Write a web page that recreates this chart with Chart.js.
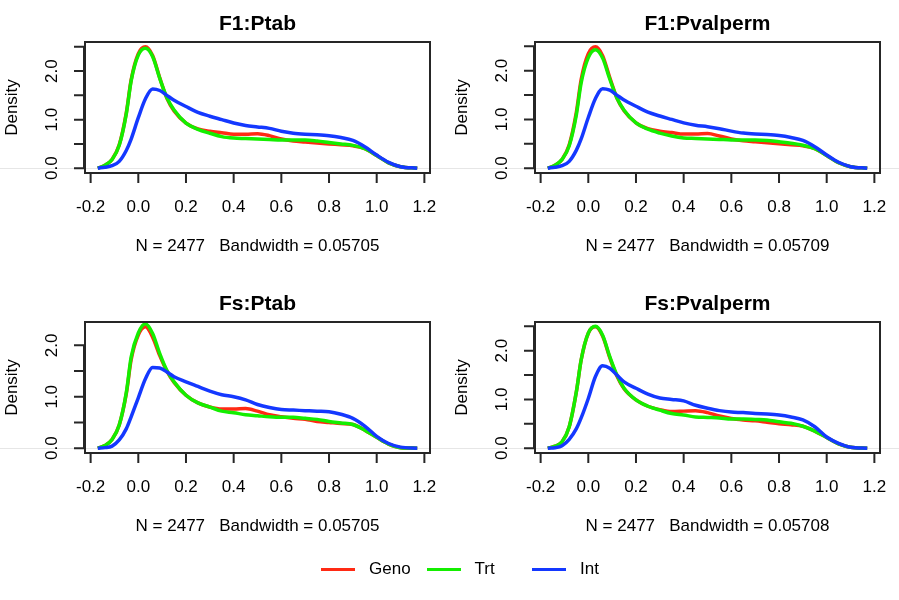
<!DOCTYPE html>
<html lang="en">
<head>
<meta charset="UTF-8">
<title>Density: F1 / Fs</title>
<script src="https://cdn.jsdelivr.net/npm/chart.js"></script>
<style>
  body { margin: 0; background: #fff; font-family: 'Liberation Sans', Arial, sans-serif; }
  #wrap { position: relative; width: 899px; height: 600px; }
  #wrap canvas { position: absolute; }
  #legend { position: absolute; left: 321px; top: 558px; height: 22px; display: flex; }
  .item { width: 105.5px; display: flex; align-items: center; font-size: 17px; color: #000; }
  .swatch { width: 34px; height: 3px; margin-right: 14px; }
</style>
</head>
<body>
<div id="wrap">
  <canvas id="c1" width="450" height="280" style="left:0;top:0"></canvas>
  <canvas id="c2" width="449" height="280" style="left:450px;top:0"></canvas>
  <canvas id="c3" width="450" height="280" style="left:0;top:280px"></canvas>
  <canvas id="c4" width="449" height="280" style="left:450px;top:280px"></canvas>
  <div id="legend"></div>
</div>

<script>
// x grid of the density estimates (shared by all panels)
const xs = [-0.17, -0.14, -0.11, -0.08, -0.05, -0.03, 0.0, 0.03, 0.06, 0.09, 0.12, 0.15, 0.2, 0.25, 0.3, 0.35,
            0.4, 0.45, 0.5, 0.55, 0.6, 0.65, 0.7, 0.75, 0.8, 0.85, 0.9, 0.95, 1.0, 1.05, 1.1, 1.17];

const seriesNames = ['Geno', 'Trt', 'Int'];
const seriesColors = ['#ff2a14', '#14ee00', '#1438ff'];

const panelTitles = ['F1:Ptab', 'F1:Pvalperm', 'Fs:Ptab', 'Fs:Pvalperm'];
const sampleSizes = [2477, 2477, 2477, 2477];
const bandwidths = ['0.05705', '0.05709', '0.05705', '0.05708'];

// F1:Ptab
const genoF1Ptab = [0.00, 0.06, 0.18, 0.48, 1.15, 1.82, 2.36, 2.50, 2.32, 1.86, 1.44, 1.18, 0.93, 0.81, 0.76, 0.73,
                    0.70, 0.70, 0.71, 0.67, 0.60, 0.56, 0.54, 0.52, 0.50, 0.48, 0.46, 0.40, 0.26, 0.11, 0.03, 0.00];
const trtF1Ptab  = [0.00, 0.06, 0.18, 0.47, 1.13, 1.80, 2.33, 2.47, 2.30, 1.85, 1.45, 1.20, 0.93, 0.80, 0.72, 0.65,
                    0.62, 0.61, 0.60, 0.59, 0.58, 0.58, 0.58, 0.56, 0.53, 0.50, 0.47, 0.40, 0.26, 0.11, 0.03, 0.00];
const intF1Ptab  = [0.00, 0.02, 0.05, 0.14, 0.37, 0.60, 1.04, 1.43, 1.63, 1.60, 1.50, 1.40, 1.27, 1.15, 1.07, 1.00,
                    0.93, 0.88, 0.85, 0.82, 0.76, 0.72, 0.70, 0.69, 0.67, 0.63, 0.57, 0.44, 0.27, 0.12, 0.03, 0.00];

// F1:Pvalperm
const genoF1Perm = [0.00, 0.06, 0.18, 0.48, 1.15, 1.82, 2.35, 2.49, 2.31, 1.86, 1.44, 1.18, 0.93, 0.81, 0.76, 0.73,
                    0.70, 0.70, 0.71, 0.66, 0.60, 0.56, 0.54, 0.52, 0.50, 0.48, 0.46, 0.40, 0.26, 0.11, 0.03, 0.00];
const trtF1Perm  = [0.00, 0.06, 0.18, 0.46, 1.10, 1.75, 2.27, 2.43, 2.26, 1.83, 1.44, 1.19, 0.93, 0.80, 0.72, 0.66,
                    0.62, 0.61, 0.60, 0.59, 0.58, 0.58, 0.58, 0.57, 0.54, 0.51, 0.47, 0.40, 0.26, 0.11, 0.03, 0.00];
const intF1Perm  = [0.00, 0.02, 0.05, 0.14, 0.37, 0.60, 1.04, 1.43, 1.63, 1.60, 1.50, 1.40, 1.27, 1.15, 1.07, 1.00,
                    0.93, 0.88, 0.85, 0.81, 0.76, 0.72, 0.70, 0.69, 0.67, 0.63, 0.57, 0.44, 0.27, 0.12, 0.03, 0.00];

// Fs:Ptab
const genoFsPtab = [0.00, 0.05, 0.17, 0.45, 1.07, 1.72, 2.20, 2.36, 2.16, 1.80, 1.50, 1.28, 1.03, 0.88, 0.80, 0.76,
                    0.76, 0.77, 0.72, 0.65, 0.61, 0.58, 0.56, 0.52, 0.50, 0.48, 0.46, 0.35, 0.21, 0.08, 0.01, 0.00];
const trtFsPtab  = [0.00, 0.05, 0.17, 0.45, 1.09, 1.77, 2.24, 2.42, 2.23, 1.84, 1.51, 1.29, 1.03, 0.88, 0.80, 0.72,
                    0.69, 0.65, 0.63, 0.61, 0.60, 0.60, 0.58, 0.56, 0.52, 0.49, 0.46, 0.35, 0.21, 0.08, 0.01, 0.00];
const intFsPtab  = [0.00, 0.01, 0.04, 0.16, 0.38, 0.61, 0.98, 1.35, 1.57, 1.56, 1.48, 1.39, 1.29, 1.20, 1.11, 1.04,
                    1.00, 0.94, 0.85, 0.79, 0.75, 0.74, 0.73, 0.72, 0.71, 0.66, 0.58, 0.43, 0.23, 0.09, 0.02, 0.00];

// Fs:Pvalperm
const genoFsPerm = [0.00, 0.04, 0.13, 0.44, 1.16, 1.81, 2.36, 2.49, 2.30, 1.86, 1.48, 1.22, 0.99, 0.86, 0.79, 0.75,
                    0.76, 0.77, 0.73, 0.66, 0.61, 0.58, 0.56, 0.53, 0.50, 0.48, 0.45, 0.35, 0.22, 0.09, 0.02, 0.00];
const trtFsPerm  = [0.00, 0.04, 0.13, 0.44, 1.16, 1.81, 2.36, 2.50, 2.32, 1.88, 1.50, 1.23, 0.99, 0.86, 0.78, 0.71,
                    0.68, 0.64, 0.63, 0.62, 0.60, 0.60, 0.59, 0.58, 0.54, 0.51, 0.45, 0.35, 0.22, 0.09, 0.02, 0.00];
const intFsPerm  = [0.00, 0.01, 0.05, 0.18, 0.40, 0.62, 1.02, 1.47, 1.69, 1.64, 1.50, 1.36, 1.23, 1.11, 1.03, 1.00,
                    0.97, 0.88, 0.82, 0.77, 0.74, 0.73, 0.71, 0.70, 0.68, 0.64, 0.58, 0.44, 0.23, 0.10, 0.02, 0.00];

const xTicks = [-0.2, 0.0, 0.2, 0.4, 0.6, 0.8, 1.0, 1.2];
const yTicks = [0.0, 0.5, 1.0, 1.5, 2.0, 2.5];
const yTickLabels = {0: '0.0', 1: '1.0', 2: '2.0'};

const FONT = "'Liberation Sans', Arial, Helvetica, sans-serif";

// base-R look: box, outward ticks, rotated y labels, title and sub text
const rStylePlugin = {
  id: 'rStyle',
  beforeDatasetsDraw(chart) {
    const ctx = chart.ctx;
    const y0 = chart.scales.y.getPixelForValue(0);
    ctx.save();
    ctx.strokeStyle = '#e6e6e6';
    ctx.lineWidth = 1;
    ctx.beginPath();
    ctx.moveTo(0, Math.round(y0) + 0.5);
    ctx.lineTo(chart.width, Math.round(y0) + 0.5);
    ctx.stroke();
    ctx.restore();
  },
  afterDatasetsDraw(chart, args, opts) {
    const ctx = chart.ctx;
    const a = chart.chartArea;
    const xs_ = chart.scales.x, ys_ = chart.scales.y;
    ctx.save();
    ctx.strokeStyle = '#262626';
    ctx.fillStyle = '#000';
    ctx.lineWidth = 2;
    ctx.strokeRect(a.left, a.top, a.right - a.left, a.bottom - a.top);

    // x axis
    ctx.beginPath();
    ctx.moveTo(xs_.getPixelForValue(xTicks[0]), a.bottom);
    ctx.lineTo(xs_.getPixelForValue(xTicks[xTicks.length - 1]), a.bottom);
    xTicks.forEach(v => {
      const px = xs_.getPixelForValue(v);
      ctx.moveTo(px, a.bottom);
      ctx.lineTo(px, a.bottom + 10);
    });
    ctx.stroke();
    ctx.font = '17px ' + FONT;
    ctx.textAlign = 'center';
    ctx.textBaseline = 'middle';
    xTicks.forEach(v => {
      ctx.fillText(v.toFixed(1), xs_.getPixelForValue(v), a.bottom + 34);
    });

    // y axis
    const shown = yTicks.filter(v => v <= ys_.max);
    ctx.beginPath();
    ctx.moveTo(a.left - 1, ys_.getPixelForValue(shown[0]));
    ctx.lineTo(a.left - 1, ys_.getPixelForValue(shown[shown.length - 1]));
    shown.forEach(v => {
      const py = ys_.getPixelForValue(v);
      ctx.moveTo(a.left - 11, py);
      ctx.lineTo(a.left, py);
    });
    ctx.stroke();
    shown.forEach(v => {
      if (yTickLabels[v] === undefined) return;
      ctx.save();
      ctx.translate(a.left - 33, ys_.getPixelForValue(v));
      ctx.rotate(-Math.PI / 2);
      ctx.fillText(yTickLabels[v], 0, 0);
      ctx.restore();
    });

    // y label
    ctx.save();
    ctx.translate(12.5, (a.top + a.bottom) / 2);
    ctx.rotate(-Math.PI / 2);
    ctx.fillText('Density', 0, 0);
    ctx.restore();

    // title and sub
    const cx = (a.left + a.right) / 2;
    ctx.font = 'bold 21px ' + FONT;
    ctx.fillText(opts.title, cx, a.top - 18);
    ctx.font = '17px ' + FONT;
    ctx.fillText(opts.sub, cx, a.bottom + 73);
    ctx.restore();
  }
};

function makePanel(canvasId, idx, geno, trt, int) {
  const canvas = document.getElementById(canvasId);
  const w = canvas.width;
  const lo = xs[0], hi = xs[xs.length - 1];
  const span = hi - lo;
  const yMax = Math.max(...geno);
  const series = [geno, trt, int];
  const drawOrder = [2, 1, 0]; // Int on top, like lines() after plot()

  new Chart(canvas.getContext('2d'), {
    type: 'line',
    data: {
      datasets: series.map((vals, i) => ({
        label: seriesNames[i],
        data: xs.map((x, j) => ({x: x, y: vals[j]})),
        borderColor: seriesColors[i],
        borderWidth: 3.5,
        pointRadius: 0,
        cubicInterpolationMode: 'monotone',
        fill: false,
        order: drawOrder[i]
      }))
    },
    options: {
      responsive: false,
      animation: false,
      layout: { padding: { left: 85, right: w - 430, top: 42, bottom: 107 } },
      scales: {
        x: { type: 'linear', min: lo - 0.04 * span, max: hi + 0.04 * span, display: false },
        y: { min: -0.04 * yMax, max: 1.04 * yMax, display: false }
      },
      plugins: {
        legend: { display: false },
        tooltip: { enabled: false },
        rStyle: {
          title: panelTitles[idx],
          sub: 'N = ' + sampleSizes[idx] + '   Bandwidth = ' + bandwidths[idx]
        }
      }
    },
    plugins: [rStylePlugin]
  });
}

makePanel('c1', 0, genoF1Ptab, trtF1Ptab, intF1Ptab);
makePanel('c2', 1, genoF1Perm, trtF1Perm, intF1Perm);
makePanel('c3', 2, genoFsPtab, trtFsPtab, intFsPtab);
makePanel('c4', 3, genoFsPerm, trtFsPerm, intFsPerm);

// shared legend under the panels
const legend = document.getElementById('legend');
seriesNames.forEach((name, i) => {
  const item = document.createElement('div');
  item.className = 'item';
  const sw = document.createElement('span');
  sw.className = 'swatch';
  sw.style.background = seriesColors[i];
  const txt = document.createElement('span');
  txt.textContent = name;
  item.appendChild(sw);
  item.appendChild(txt);
  legend.appendChild(item);
});
</script>
</body>
</html>
